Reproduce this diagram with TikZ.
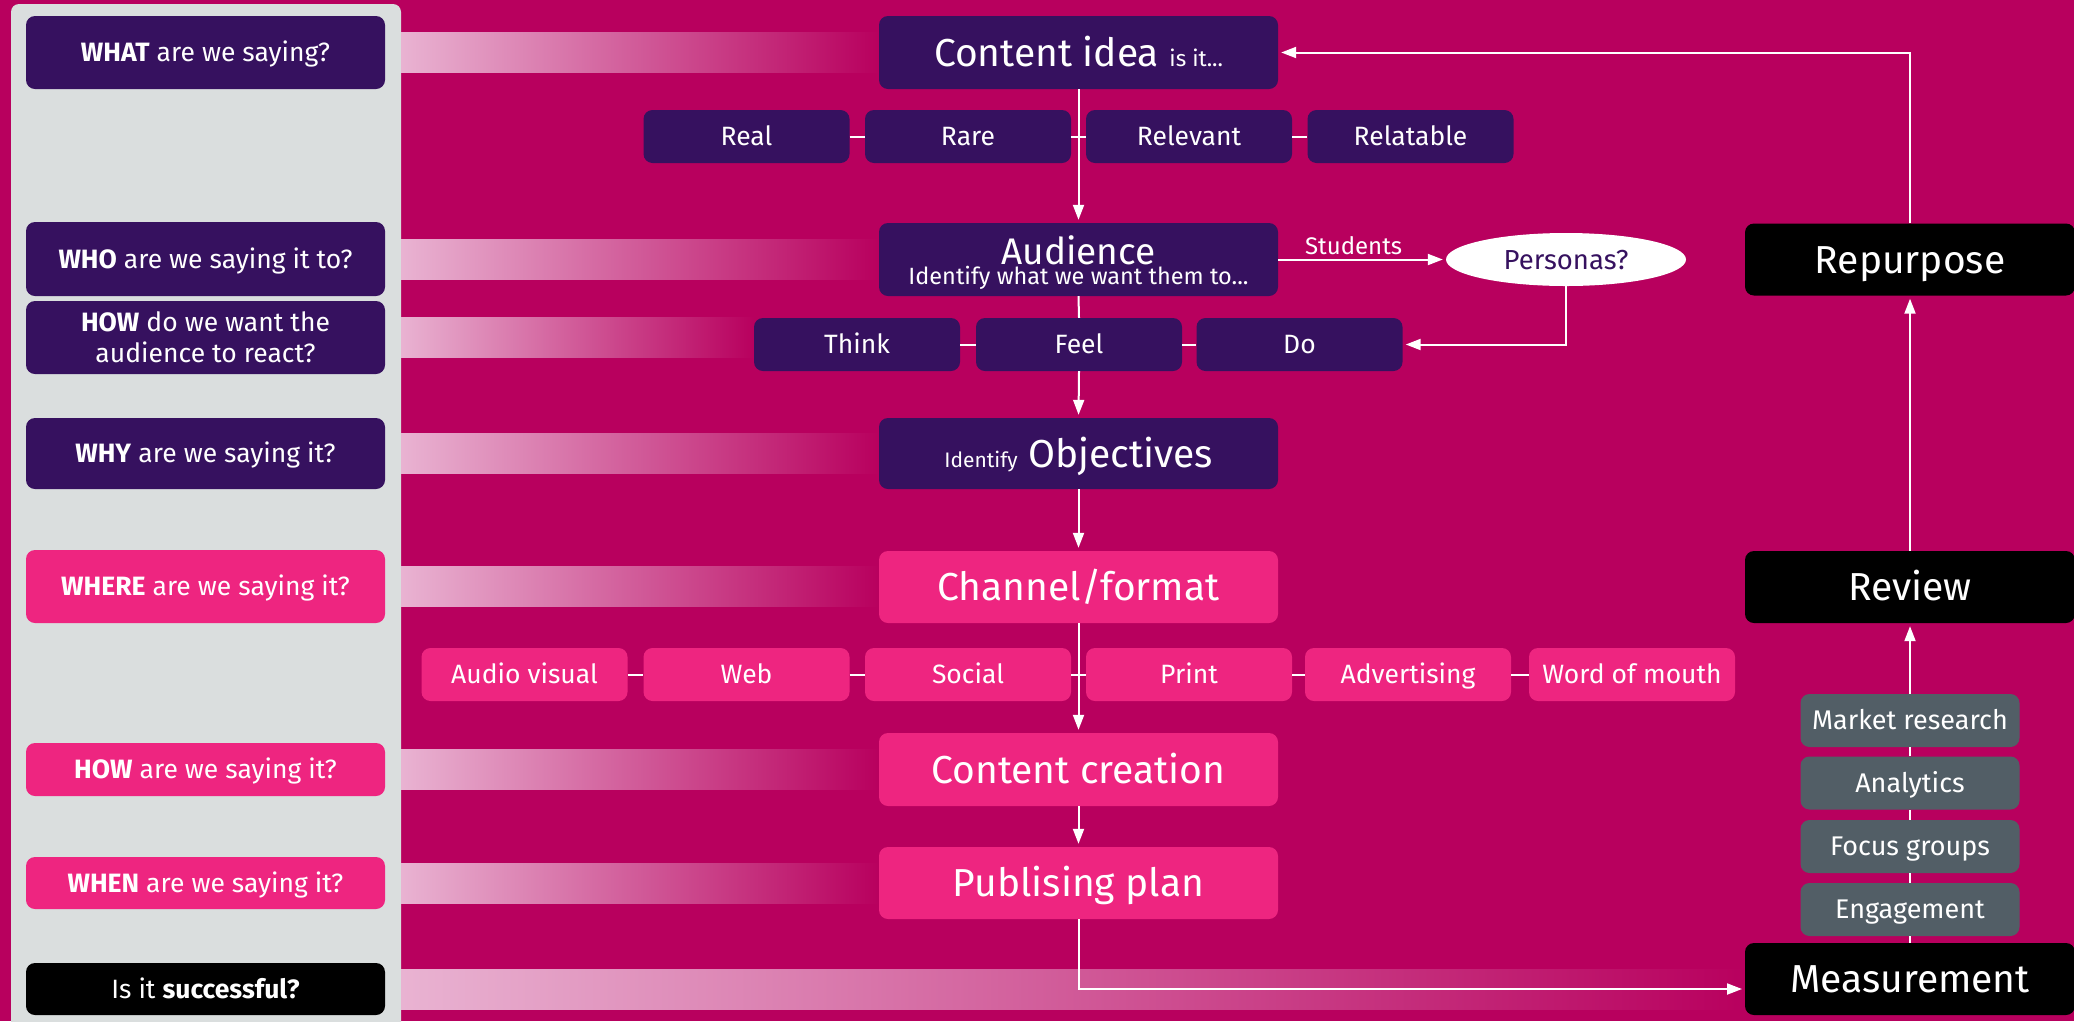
\documentclass[tikz,border=0pt]{standalone}
\usepackage{fontspec}
\setmainfont{Fira Sans}
\usetikzlibrary{arrows.meta,shapes.geometric,calc}
\definecolor{bg}{HTML}{B8005E}
\definecolor{dpurple}{HTML}{36115F}
\definecolor{hotpink}{HTML}{EE2580}
\definecolor{panel}{HTML}{DADEDE}
\definecolor{slate}{HTML}{525E66}
\definecolor{barlight}{HTML}{E9B3D2}
\newcommand\fL{\fontsize{39}{44}\selectfont}
\newcommand\fq{\fontsize{26.5}{31}\selectfont}
\newcommand\fs{\fontsize{21}{25}\selectfont}
\newcommand\fg{\fontsize{27}{31}\selectfont}
\begin{document}
\begin{tikzpicture}[x=1pt,y=-1pt,
  box/.style={rectangle, rounded corners=9pt, text=white, align=center, inner sep=0pt},
  qbox/.style={box, minimum width=359pt, font=\fq},
  qs/.style={qbox, text height=18.3pt, text depth=0pt},
  cbox/.style={box, minimum width=399pt, minimum height=73pt, font=\fL, text height=27pt, text depth=0pt},
  rowbox/.style={box, minimum width=206pt, minimum height=53pt, font=\fq, text height=18.3pt, text depth=0pt},
  rbox/.style={box, fill=black, minimum width=330pt, minimum height=72pt, font=\fL, text height=27pt, text depth=0pt},
  gbox/.style={box, fill=slate, minimum width=219pt, minimum height=53pt, font=\fg, text height=18.6pt, text depth=0pt},
  arr/.style={draw=white, line width=2pt, -{Triangle[length=15pt,width=11pt]}, shorten >=3pt},
  ln/.style={draw=white, line width=2pt},
  bar/.style={left color=barlight, right color=bg}
]
\useasboundingbox (0,0) rectangle (2074,1021);
\fill[bg] (0,0) rectangle (2074,1021);
\fill[panel, rounded corners=8pt] (11,4) rectangle (401,1040);

% gradient bars
\shade[bar] (401,32.5) rectangle (879,72.5);
\shade[bar] (401,239) rectangle (879,279);
\shade[bar] (401,317.5) rectangle (754,357.5);
\shade[bar] (401,433.5) rectangle (879,473.5);
\shade[bar] (401,566.5) rectangle (879,606.5);
\shade[bar] (401,749.5) rectangle (879,789.5);
\shade[bar] (401,863) rectangle (879,903);
\shade[bar] (401,969) rectangle (1745,1009);

% left question boxes
\node[qs, fill=dpurple, minimum height=73pt] (what) at (205.5,52.5) {\textbf{WHAT} are we saying?};
\node[qs, fill=dpurple, minimum height=74pt] (who) at (205.5,259) {\textbf{WHO} are we saying it to?};
\node[qbox, fill=dpurple, minimum height=73pt] (howreact) at (205.5,337.5) {\textbf{HOW} do we want the\\audience to react?};
\node[qs, fill=dpurple, minimum height=71pt] (why) at (205.5,453.5) {\textbf{WHY} are we saying it?};
\node[qs, fill=hotpink, minimum height=73pt] (where) at (205.5,586.5) {\textbf{WHERE} are we saying it?};
\node[qs, fill=hotpink, minimum height=53pt] (howsay) at (205.5,769.5) {\textbf{HOW} are we saying it?};
\node[qs, fill=hotpink, minimum height=52pt] (when) at (205.5,883) {\textbf{WHEN} are we saying it?};
\node[qs, fill=black, minimum height=52pt] (success) at (205.5,989) {Is it \textbf{successful?}};

% centre column
\node[cbox, fill=dpurple] (idea) at (1078.5,52.5) {Content idea {\fontsize{22.5}{26}\selectfont is it...}};
\node[rectangle, rounded corners=9pt, text=white, inner sep=0pt, minimum width=399pt, minimum height=73pt, fill=dpurple] (aud) at (1078.5,259.5)
  {\vbox{\offinterlineskip
    \hbox to 390pt{\hfil\fontsize{37}{37}\selectfont\rule{0pt}{36pt}Audience\hfil}
    \hbox to 390pt{\hfil\fontsize{23.5}{26}\selectfont\rule[-6pt]{0pt}{26pt}Identify what we want them to...\hfil}}};
\node[cbox, fill=dpurple, minimum height=71pt] (obj) at (1078.5,453.5) {{\fs Identify} Objectives};
\node[cbox, fill=hotpink, minimum height=72pt] (chan) at (1078.5,587) {Channel/format};
\node[cbox, fill=hotpink] (create) at (1078.5,769.5) {Content creation};
\node[cbox, fill=hotpink, minimum height=72pt] (pub) at (1078.5,883) {Publising plan};

% rows
\node[rowbox, fill=dpurple] (real) at (746.5,136.5) {Real};
\node[rowbox, fill=dpurple] (rare) at (968,136.5) {Rare};
\node[rowbox, fill=dpurple] (relevant) at (1189,136.5) {Relevant};
\node[rowbox, fill=dpurple] (relatable) at (1410.5,136.5) {Relatable};

\node[rowbox, fill=dpurple] (think) at (857,344.5) {Think};
\node[rowbox, fill=dpurple] (feel) at (1079,344.5) {Feel};
\node[rowbox, fill=dpurple] (do) at (1299.5,344.5) {Do};

\node[rowbox, fill=hotpink] (av) at (524.5,674.5) {Audio visual};
\node[rowbox, fill=hotpink] (web) at (746.5,674.5) {Web};
\node[rowbox, fill=hotpink] (social) at (968,674.5) {Social};
\node[rowbox, fill=hotpink] (print) at (1189,674.5) {Print};
\node[rowbox, fill=hotpink] (adv) at (1408,674.5) {Advertising};
\node[rowbox, fill=hotpink] (wom) at (1632,674.5) {Word of mouth};

% personas
\node[ellipse, fill=white, text=dpurple, minimum width=240pt, minimum height=53pt, inner sep=0pt, font=\fontsize{27.5}{31}\selectfont, text height=19pt, text depth=0pt] (pers) at (1566,259.5) {Personas?};

% right column
\node[rbox] (repurpose) at (1910,259.5) {Repurpose};
\node[rbox] (review) at (1910,587) {Review};
\node[rbox] (measure) at (1910,979) {Measurement};
\node[gbox] (mr) at (1910,720.5) {Market research};
\node[gbox] (an) at (1910,783) {Analytics};
\node[gbox] (fg) at (1910,846.5) {Focus groups};
\node[gbox] (en) at (1910,909.5) {Engagement};

% row ticks
\draw[ln] (real.east) -- (rare.west);
\draw[ln] (rare.east) -- (relevant.west);
\draw[ln] (relevant.east) -- (relatable.west);
\draw[ln] (think.east) -- (feel.west);
\draw[ln] (feel.east) -- (do.west);
\draw[ln] (av.east) -- (web.west);
\draw[ln] (web.east) -- (social.west);
\draw[ln] (social.east) -- (print.west);
\draw[ln] (print.east) -- (adv.west);
\draw[ln] (adv.east) -- (wom.west);

% main flow
\draw[arr] (idea.south) -- (aud.north);
\draw[ln] (aud.south) -- (feel.north);
\draw[arr] (feel.south) -- (obj.north);
\draw[arr] (obj.south) -- (chan.north);
\draw[arr] (chan.south) -- (create.north);
\draw[arr] (create.south) -- (pub.north);
\coordinate (mIn) at (1745,989);
\draw[arr] (pub.south) |- (mIn);

\draw[arr] (aud.east) -- node[above, pos=0.45, font=\fontsize{24}{28}\selectfont, text=white, inner sep=4pt] {Students} (pers.west);
\draw[arr] (pers.south) |- (do.east);

% right flow
\draw[ln] (measure.north) -- (en.south);
\draw[ln] (en.north) -- (fg.south);
\draw[ln] (fg.north) -- (an.south);
\draw[ln] (an.north) -- (mr.south);
\draw[arr] (mr.north) -- (review.south);
\draw[arr] (review.north) -- (repurpose.south);
\draw[arr] (repurpose.north) |- (idea.east);
\end{tikzpicture}
\end{document}
